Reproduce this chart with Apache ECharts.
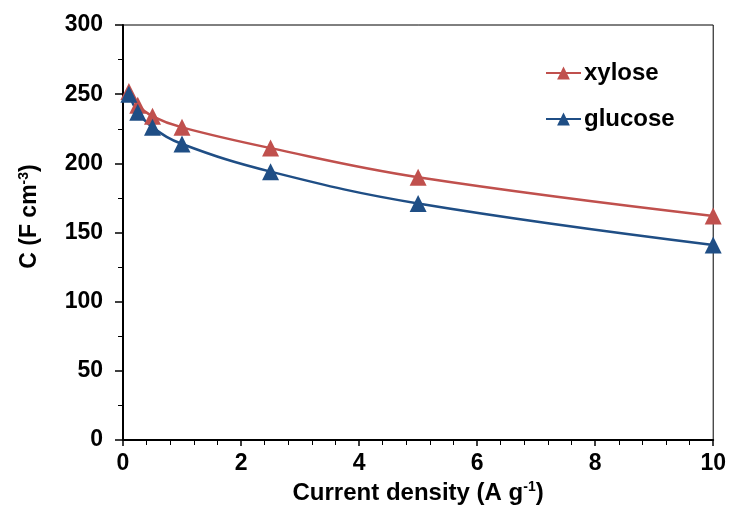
<!DOCTYPE html>
<html>
<head>
<meta charset="utf-8">
<script src="https://cdn.jsdelivr.net/npm/echarts@6/dist/echarts.min.js"></script>
<style>
  html, body { margin: 0; padding: 0; background: #fff; }
  #chart { width: 729px; height: 513px; }
</style>
</head>
<body>
<div id="chart"></div>
<script>
var currentDensity = [0.1, 0.25, 0.5, 1, 2.5, 5, 10];
var xylose = [252, 242, 234, 226, 211, 190, 162];
var glucose = [250, 237, 226, 214, 194, 171, 141];

function pairs(xs, ys) {
  return xs.map(function (x, i) { return [x, ys[i]]; });
}

var chart = echarts.init(document.getElementById("chart"));
var font = "Liberation Sans, Arial, sans-serif";
var axisText = { color: "#000", fontSize: 23, fontWeight: "bold", fontFamily: font };
var supStyle = { fontSize: 14, fontWeight: "bold", fontFamily: font, color: "#000", padding: [0, 0, 12, 0] };

chart.setOption({
  animation: false,
  grid: {
    left: 123,
    right: 15,
    top: 25,
    bottom: 73,
    show: true,
    borderColor: "#000",
    borderWidth: 1
  },
  legend: {
    orient: "vertical",
    left: 540,
    top: 56,
    itemWidth: 35,
    itemHeight: 16,
    itemGap: 22,
    textStyle: { color: "#000", fontSize: 24, fontWeight: "bold", fontFamily: font, padding: [0, 0, 0, -2] },
    data: ["xylose", "glucose"]
  },
  xAxis: {
    type: "value",
    min: 0,
    max: 10,
    interval: 2,
    name: "Current density (A g{sup|-1})",
    nameLocation: "middle",
    nameGap: 31,
    nameTextStyle: {
      color: "#000", fontSize: 24, fontWeight: "bold", fontFamily: font,
      rich: { sup: supStyle }
    },
    axisLine: { lineStyle: { color: "#000", width: 2 } },
    axisTick: { show: true, length: 6, lineStyle: { color: "#000", width: 1.5 } },
    minorTick: { show: true, splitNumber: 5, length: 5, lineStyle: { color: "#000", width: 1 } },
    axisLabel: Object.assign({ margin: 12 }, axisText),
    splitLine: { show: false }
  },
  yAxis: {
    type: "value",
    min: 0,
    max: 300,
    interval: 50,
    name: "C (F cm{sup|-3})",
    nameLocation: "middle",
    nameGap: 80,
    nameTextStyle: {
      color: "#000", fontSize: 23, fontWeight: "bold", fontFamily: font,
      padding: [0, 0, 0, 32],
      rich: { sup: supStyle }
    },
    axisLine: { show: true, lineStyle: { color: "#000", width: 2 } },
    axisTick: { show: true, length: 8, lineStyle: { color: "#000", width: 1.5 } },
    minorTick: { show: true, splitNumber: 2, length: 5, lineStyle: { color: "#000", width: 1 } },
    axisLabel: Object.assign({ margin: 20 }, axisText),
    splitLine: { show: false }
  },
  series: [
    {
      name: "xylose",
      type: "line",
      smooth: 0.4,
      symbol: "triangle",
      symbolSize: 17,
      color: "#C0504D",
      lineStyle: { width: 2.5 },
      data: pairs(currentDensity, xylose)
    },
    {
      name: "glucose",
      type: "line",
      smooth: 0.4,
      symbol: "triangle",
      symbolSize: 17,
      color: "#1F4E85",
      lineStyle: { width: 2.5 },
      data: pairs(currentDensity, glucose)
    }
  ]
});
</script>
</body>
</html>
